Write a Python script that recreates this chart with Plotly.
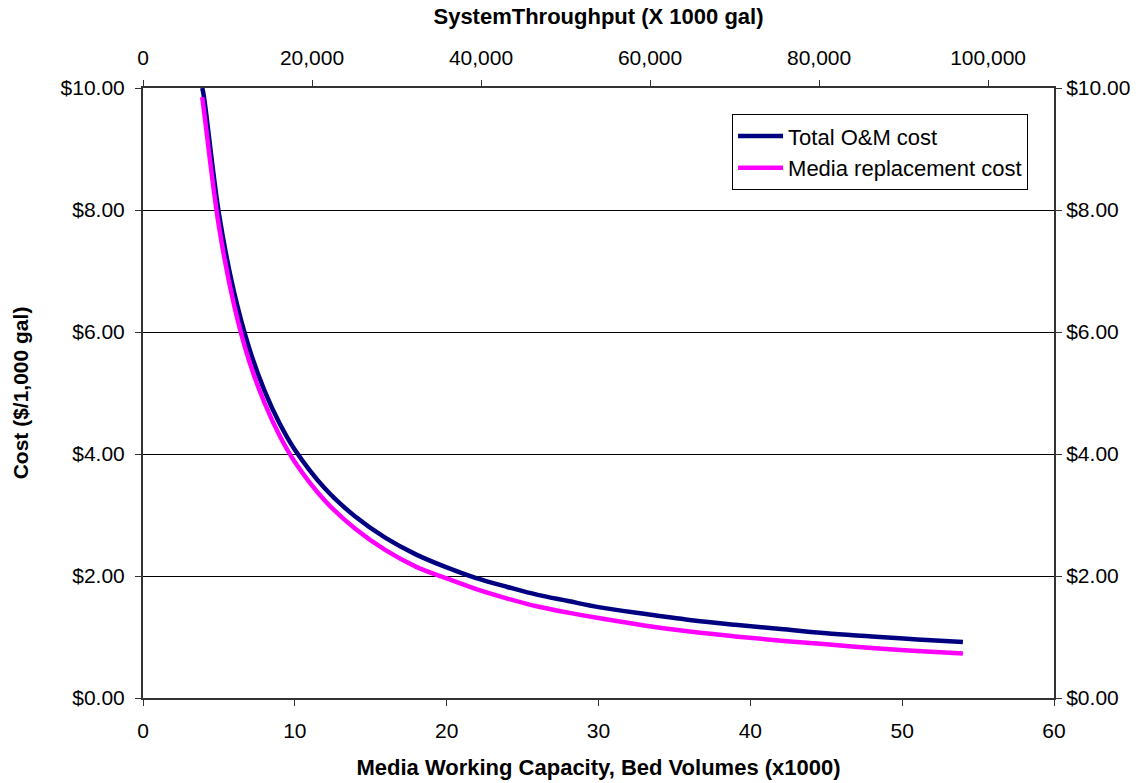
import plotly.graph_objects as go

bv = [3.9, 4, 5, 6, 7, 8, 9, 10, 12, 14, 16, 18, 20, 22, 24, 26, 28, 30, 33, 36, 39, 42, 45, 48, 51, 54]
total_om = [10.0, 9.88, 7.94, 6.65, 5.73, 5.04, 4.50, 4.07, 3.43, 2.97, 2.62, 2.35, 2.14, 1.96, 1.82, 1.69,
            1.59, 1.49, 1.38, 1.28, 1.20, 1.13, 1.06, 1.01, 0.96, 0.92]
media_cost = [9.85, 9.66, 7.73, 6.44, 5.52, 4.84, 4.30, 3.87, 3.23, 2.77, 2.42, 2.15, 1.96, 1.78, 1.63, 1.50,
              1.40, 1.31, 1.19, 1.09, 1.01, 0.94, 0.88, 0.82, 0.77, 0.73]
throughput_range = [0, 107800]
bv_range = [0, 60]
cost_range = [0, 10]

font_family = "Liberation Sans, Arial, sans-serif"

fig = go.Figure()
fig.add_trace(go.Scatter(x=bv, y=total_om, mode="lines", name="Total O&M cost",
                         line=dict(color="#000080", width=4.5, shape="spline")))
fig.add_trace(go.Scatter(x=bv, y=media_cost, mode="lines", name="Media replacement cost",
                         line=dict(color="#FF00FF", width=4.5, shape="spline")))
# invisible trace to anchor secondary axes
fig.add_trace(go.Scatter(x=throughput_range, y=cost_range, xaxis="x2", yaxis="y2", mode="lines",
                         line=dict(width=0, color="rgba(0,0,0,0)"), showlegend=False, hoverinfo="skip"))

axis_common = dict(showline=True, linecolor="#333333", linewidth=2, ticks="outside", ticklen=6,
                   tickcolor="#333333", tickfont=dict(size=21, color="black", family=font_family),
                   zeroline=False, automargin=False)

fig.update_layout(
    width=1143, height=783,
    margin=dict(l=143, r=89, t=88, b=85),
    paper_bgcolor="white", plot_bgcolor="white",
    font=dict(family=font_family, color="black"),
    xaxis=dict(range=bv_range, dtick=10, showgrid=False, ticklabelstandoff=7,
               title=dict(text="<b>Media Working Capacity, Bed Volumes (x1000)</b>",
                          font=dict(size=22), standoff=18),
               **axis_common),
    yaxis=dict(range=cost_range, dtick=2, tickformat="$.2f", showgrid=True, gridcolor="black",
               gridwidth=1, ticklabelstandoff=6,
               title=dict(text="<b>Cost ($/1,000 gal)</b>", font=dict(size=21), standoff=26),
               **axis_common),
    xaxis2=dict(range=throughput_range, dtick=20000, tickformat=",", overlaying="x", side="top",
                showgrid=False, anchor="y", ticklabelstandoff=7,
                title=dict(text="<b>SystemThroughput (X 1000 gal)</b>", font=dict(size=22), standoff=15),
                **axis_common),
    yaxis2=dict(range=cost_range, dtick=2, tickformat="$.2f", overlaying="y", side="right",
                showgrid=False, anchor="x",
                **axis_common),
    legend=dict(x=0.6466, y=0.957, xanchor="left", yanchor="top", bordercolor="black", borderwidth=1,
                bgcolor="white", font=dict(size=22, color="black"), tracegroupgap=0, itemwidth=45),
    showlegend=True,
)

fig.write_html("out.html")
